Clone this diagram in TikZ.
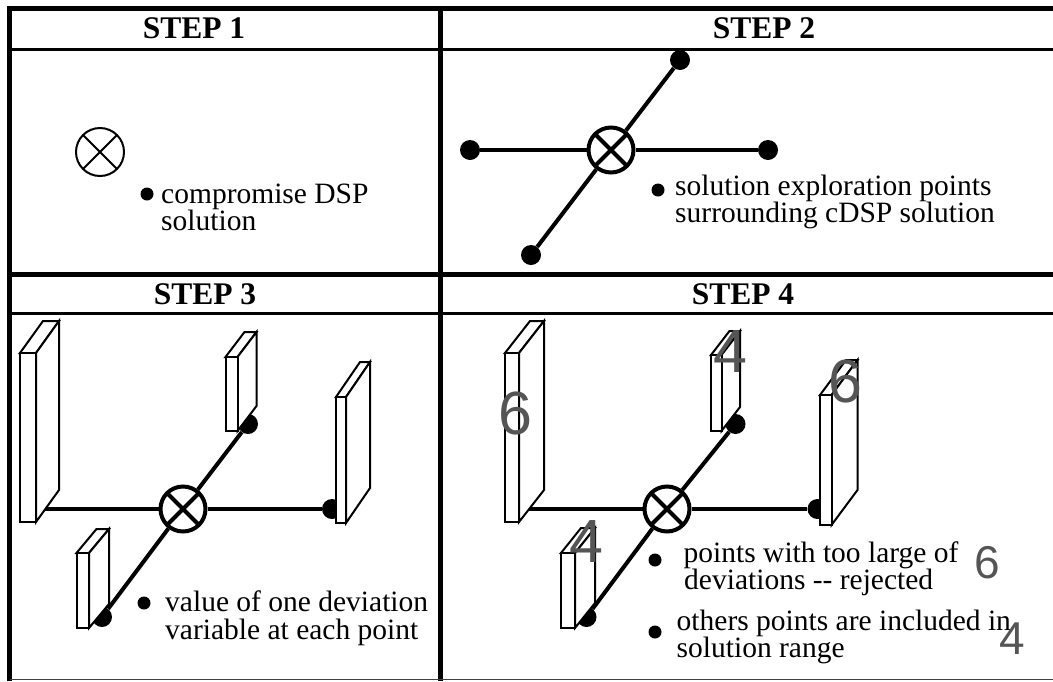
\documentclass[tikz,border=0pt]{standalone}
\usepackage{fontspec}
\setmainfont{Liberation Serif}
\newfontfamily\digitfont{Liberation Sans}
\definecolor{numgray}{RGB}{85,85,85}
\tikzset{
  frame/.style={line width=5pt},
  thinframe/.style={line width=2.5pt},
  body/.style={font=\fontsize{29.5pt}{31pt}\selectfont, anchor=base west, inner sep=0pt},
  head/.style={font=\bfseries\fontsize{31.5pt}{33pt}\selectfont, anchor=base, inner sep=0pt},
  dot/.style={circle, fill=black, inner sep=0pt, minimum size=20pt},
  bul/.style={circle, fill=black, inner sep=0pt, minimum size=13pt},
  otimes/.style={circle, draw, line width=4pt, inner sep=0pt, minimum size=45pt,
    path picture={\draw[line width=4pt]
      (path picture bounding box.north west) -- (path picture bounding box.south east)
      (path picture bounding box.north east) -- (path picture bounding box.south west);}},
  otimesthin/.style={circle, draw, line width=2pt, inner sep=0pt, minimum size=48pt,
    path picture={\draw[line width=2pt]
      (path picture bounding box.north west) -- (path picture bounding box.south east)
      (path picture bounding box.north east) -- (path picture bounding box.south west);}},
  axis/.style={line width=4pt},
  slab/.style={fill=white, draw=black, line width=2pt, line join=miter},
  numbig/.style={font=\digitfont\fontsize{61pt}{61pt}\selectfont, text=numgray, inner sep=0pt},
  numsmall/.style={font=\digitfont\fontsize{46pt}{46pt}\selectfont, text=numgray, inner sep=0pt}
}
% #1 x0, #2 y0 (top), #3 x1, #4 y1 (bottom), #5 dx, #6 dy
\newcommand\myslab[6]{%
  \filldraw[slab] (#1,#2) -- (#1+#5,#2+#6) -- (#3+#5,#2+#6) -- (#3,#2) -- cycle;
  \filldraw[slab] (#3,#2) -- (#3+#5,#2+#6) -- (#3+#5,#4+#6) -- (#3,#4) -- cycle;
  \filldraw[slab] (#1,#2) rectangle (#3,#4);
}
\begin{document}
\begin{tikzpicture}[x=1pt,y=-1pt]
\useasboundingbox (0,0) rectangle (1053,681);
% frame
\draw[frame] (7,8.5) -- (1053,8.5);
\draw[frame] (9.5,6) -- (9.5,681);
\draw[frame] (440,6) -- (440,681);
\draw[thinframe] (9.5,49.5) -- (1053,49.5);
\draw[frame] (9.5,274.5) -- (1053,274.5);
\draw[line width=3pt] (9.5,313.5) -- (1053,313.5);
\draw[line width=1.5pt, black!75] (9.5,679.5) -- (1053,679.5);
% headers
\node[head] (h1) at (194,38) {STEP 1};
\node[head] (h2) at (764,38) {STEP 2};
\node[head] (h3) at (205,304) {STEP 3};
\node[head] (h4) at (743,304) {STEP 4};
% step 1
\node[otimesthin] (s1c) at (100,152) {};
\node[bul] (s1b) at (147,194) {};
\node[body] (s1t1) at (161,203) {compromise DSP};
\node[body] (s1t2) at (161,230) {solution};
% step 2
\node[otimes] (s2c) at (611,150) {};
\node[dot] (s2l) at (470,150) {};
\node[dot] (s2r) at (768,150) {};
\node[dot] (s2b) at (531,255) {};
\node[dot] (s2t) at (680,60) {};
\draw[axis] (s2c) -- (s2l);
\draw[axis] (s2c) -- (s2r);
\draw[axis] (s2c) -- (s2b);
\draw[axis] (s2c) -- (s2t);
\node[bul] (s2d) at (658,190) {};
\node[body] (s2t1) at (675,195) {solution exploration points};
\node[body] (s2t2) at (675,222) {surrounding cDSP solution};
% step 3
\node[otimes] (s3c) at (183,509) {};
\coordinate (s3l) at (40,509);
\node[dot] (s3r) at (332,509) {};
\node[dot] (s3t) at (248,424) {};
\node[dot] (s3b) at (102,617) {};
\draw[axis] (s3c) -- (s3l);
\draw[axis] (s3c) -- (s3r);
\draw[axis] (s3c) -- (s3t);
\draw[axis] (s3c) -- (s3b);
\myslab{20}{353}{36}{522}{23}{-32}
\myslab{225.5}{357}{237.5}{431}{19}{-25}
\myslab{336}{397}{346}{523}{24}{-35}
\myslab{76.5}{553}{89}{628}{20}{-24}
\node[bul] (s3d) at (144,603) {};
\node[body] (s3t1) at (165,611) {value of one deviation};
\node[body] (s3t2) at (165,639) {variable at each point};
% step 4
\node[otimes] (s4c) at (667,509) {};
\coordinate (s4l) at (524,509);
\node[dot] (s4r) at (817.5,509) {};
\node[dot] (s4t) at (735.5,424) {};
\node[dot] (s4b) at (586.5,617) {};
\draw[axis] (s4c) -- (s4l);
\draw[axis] (s4c) -- (s4r);
\draw[axis] (s4c) -- (s4t);
\draw[axis] (s4c) -- (s4b);
\myslab{505}{353}{519}{522}{25}{-32}
\myslab{711}{355}{721.5}{431}{18.5}{-24}
\myslab{820}{395}{831.5}{525}{26}{-35}
\myslab{561}{553}{575}{628}{20}{-25}
\node[bul] (s4d1) at (655,560) {};
\node[body] (s4t1) at (683.5,562) {points with too large of};
\node[body] (s4t2) at (684,589) {deviations -{}- rejected};
\node[bul] (s4d2) at (655,632) {};
\node[body] (s4t3) at (676.5,630) {others points are included in};
\node[body] (s4t4) at (676.5,657) {solution range};
% grey numbers
\node[numbig] (n1) at (515.5,413) {6};
\node[numbig] (n2) at (730,352) {4};
\node[numbig] (n3) at (845,381) {6};
\node[numbig] (n4) at (586,542) {4};
\node[numsmall] (n5) at (987.5,562.5) {6};
\node[numsmall] (n6) at (1012,639) {4};
\end{tikzpicture}
\end{document}
